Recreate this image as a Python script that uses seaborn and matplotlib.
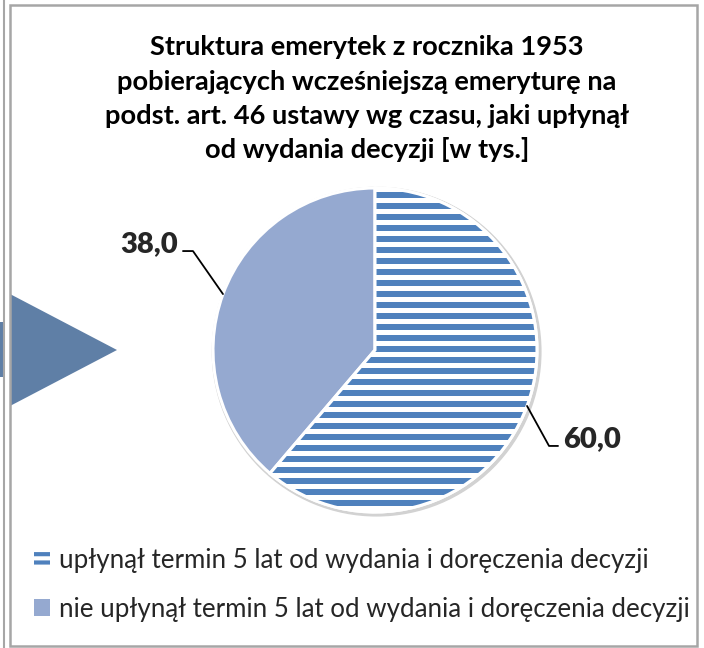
import matplotlib
matplotlib.use("Agg")
import matplotlib.pyplot as plt
import seaborn as sns
import numpy as np
from matplotlib.patches import Patch, Rectangle, Polygon, Wedge

# dane
categories = ['upłynął termin 5 lat od wydania i doręczenia decyzji',
              'nie upłynął termin 5 lat od wydania i doręczenia decyzji']
values = [60.0, 38.0]
value_labels = ['60,0', '38,0']
title_lines = ['Struktura emerytek z rocznika 1953',
               'pobierających wcześniejszą emeryturę na',
               'podst. art. 46 ustawy wg czasu, jaki upłynął',
               'od wydania decyzji [w tys.]']

stripe_blue = '#4F81BD'
solid_blue = '#95A9D0'
arrow_blue = '#5F7FA6'
frame_gray = '#A6A6A6'

sns.set_theme(style='white')
plt.rcParams['font.family'] = ['Lato', 'DejaVu Sans']
plt.rcParams['hatch.linewidth'] = 3

W, H = 704, 648
fig = plt.figure(figsize=(W / 100, H / 100), dpi=100)


def fx(x):
    return x / W


def fy(y):
    return 1 - y / H


# elementy z lewej strony (fragment sąsiedniego obiektu)
fig.patches.append(Polygon([(fx(10), fy(294)), (fx(117), fy(350)), (fx(10), fy(406))],
                           closed=True, transform=fig.transFigure, facecolor=arrow_blue,
                           edgecolor='none'))
fig.patches.append(Rectangle((0, fy(377)), fx(3), (377 - 322) / H, transform=fig.transFigure,
                             facecolor=arrow_blue, edgecolor='none'))
fig.lines.append(plt.Line2D([fx(4), fx(4)], [0, 1], transform=fig.transFigure,
                            color=frame_gray, lw=1.5))
# ramka wykresu
fig.patches.append(Rectangle((fx(10), fy(646)), (697 - 10) / W, (646 - 5) / H,
                             transform=fig.transFigure, fill=False, edgecolor=frame_gray, lw=1.8))

# tytuł
baselines = [55, 89.5, 124, 158.5]
for line, yb in zip(title_lines, baselines):
    fig.text(fx(367), fy(yb), line, ha='center', va='baseline', fontsize=19.6,
             fontweight='bold', color='black')

# wykres kołowy
R = 162
cx, cy = 375, 350
half = 170
ax = fig.add_axes([fx(cx - half), fy(cy + half), 2 * half / W, 2 * half / H])
ax.axis('off')

ax.add_patch(plt.Circle((0.01, -0.01), 1.014, color='#d2d2d2', zorder=0))
wedges, _ = ax.pie(values, startangle=90, counterclock=False,
                   colors=['white', solid_blue],
                   wedgeprops=dict(edgecolor='white', linewidth=2.2), radius=1)
lim = half / R
ax.set_xlim(-lim, lim)
ax.set_ylim(-lim, lim)
ax.set_aspect('equal')
for w in wedges:
    w.set_zorder(2)

# paski w pierwszym wycinku
period = 11 / R
band = 6.3 / R
for y0 in np.arange(-1.1, 1.1, period):
    s = ax.axhspan(y0, y0 + band, color=stripe_blue, lw=0, zorder=3)
    s.set_clip_path(wedges[0])
w0 = wedges[0]
ax.add_patch(Wedge(w0.center, w0.r, w0.theta1, w0.theta2, facecolor='none',
                   edgecolor='white', lw=2.2, zorder=4))

# etykiety wartości z liniami odniesienia
offsets = [(22, 40, 9), (-30, -43, -10)]
for w, lab, (dx, dy, hx) in zip(wedges, value_labels, offsets):
    ang = np.deg2rad((w.theta1 + w.theta2) / 2)
    px, py = np.cos(ang), np.sin(ang)
    ex, ey = px + dx / R, py - dy / R
    hxe = ex + hx / R
    ax.plot([px, ex, hxe], [py, ey, ey], color='black', lw=1.3, clip_on=False, zorder=5)
    side = 'left' if hx > 0 else 'right'
    ax.text(hxe + np.sign(hx) * 5 / R, ey + 7 / R, lab, ha=side, va='center',
            fontsize=21, fontweight='heavy', clip_on=False)

# legenda
handles = [Patch(facecolor='white', edgecolor=stripe_blue, hatch='--', lw=0),
           Patch(facecolor=solid_blue, edgecolor='none')]
fig.legend(handles, categories, loc='center left', bbox_to_anchor=(fx(34), fy(585)),
           frameon=False, fontsize=18.6, handlelength=0.6, handleheight=0.6,
           handletextpad=0.35, labelspacing=0.9, borderpad=0, borderaxespad=0)

fig.savefig('out.png', dpi=100)
